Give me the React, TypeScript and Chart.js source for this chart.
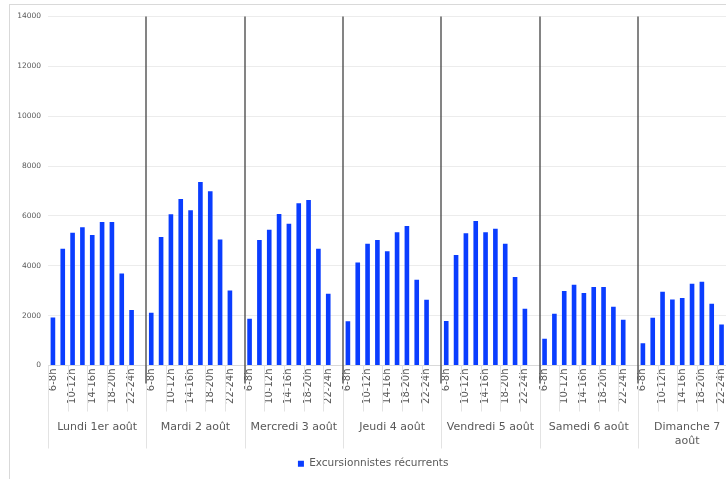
import React, { useEffect, useRef } from "react";
import { Chart, registerables } from "chart.js";

Chart.register(...registerables);

const dayLabels: (string | string[])[] = [
  "Lundi 1er août",
  "Mardi 2 août",
  "Mercredi 3 août",
  "Jeudi 4 août",
  "Vendredi 5 août",
  "Samedi 6 août",
  ["Dimanche 7", "août"],
];
const slots = ["6-8h", "8-10h", "10-12h", "12-14h", "14-16h", "16-18h", "18-20h", "20-22h", "22-24h", ""];

const lundi = [1930, 4680, 5330, 5550, 5230, 5760, 5760, 3690, 2230];
const mardi = [2120, 5150, 6070, 6680, 6230, 7360, 6990, 5050, 3010];
const mercredi = [1880, 5030, 5450, 6080, 5690, 6510, 6640, 4680, 2880];
const jeudi = [1780, 4130, 4880, 5030, 4580, 5350, 5600, 3440, 2640];
const vendredi = [1790, 4430, 5310, 5800, 5350, 5490, 4880, 3550, 2280];
const samedi = [1070, 2080, 2990, 3240, 2910, 3150, 3150, 2360, 1840];
const dimanche = [890, 1920, 2960, 2650, 2710, 3280, 3360, 2480, 1640];

const seriesName = "Excursionnistes récurrents";
const yMax = 14000;
const yStep = 2000;

const perDay = [lundi, mardi, mercredi, jeudi, vendredi, samedi, dimanche];
const labels: string[] = [];
const values: (number | null)[] = [];
perDay.forEach((d) => {
  slots.forEach((s, i) => {
    labels.push(s);
    values.push(i < d.length ? d[i] : null);
  });
});

const FONT = "'DejaVu Sans', sans-serif";
const TEXT = "#595959";

const decorations = {
  id: "decorations",
  afterDraw(chart: any) {
    const { ctx, chartArea, scales } = chart;
    const x = scales.x;
    const step = x.getPixelForValue(1) - x.getPixelForValue(0);
    const boundary = (k: number) => x.getPixelForValue(k) - step / 2;
    const bottom = chartArea.bottom;
    const tickBottom = bottom + 46;
    const dayBottom = tickBottom + 37;
    ctx.save();
    ctx.strokeStyle = "#e3e3e3";
    ctx.lineWidth = 1;
    for (let k = 0; k <= labels.length; k += 2) {
      const px = Math.round(boundary(k)) + 0.5;
      ctx.beginPath();
      ctx.moveTo(px, bottom);
      ctx.lineTo(px, k % 10 === 0 ? dayBottom : tickBottom);
      ctx.stroke();
    }
    ctx.strokeStyle = "#505050";
    ctx.lineWidth = 1.4;
    for (let k = 10; k < labels.length; k += 10) {
      const px = Math.round(boundary(k));
      ctx.beginPath();
      ctx.moveTo(px, chartArea.top);
      ctx.lineTo(px, bottom + 18);
      ctx.stroke();
    }
    ctx.restore();
  },
};

export default function App() {
  const ref = useRef<HTMLCanvasElement | null>(null);
  useEffect(() => {
    if (!ref.current) return;
    const chart = new Chart(ref.current, {
      type: "bar",
      data: {
        labels,
        datasets: [
          {
            label: seriesName,
            data: values,
            backgroundColor: "#0a3dff",
            borderColor: "#0a3dff",
            borderWidth: 0,
            categoryPercentage: 1,
            barPercentage: 0.47,
          },
        ],
      },
      options: {
        responsive: false,
        animation: false,
        maintainAspectRatio: false,
        layout: { padding: { top: 10, right: 13.7, left: 0, bottom: 0 } },
        plugins: {
          tooltip: { enabled: false },
          legend: {
            position: "bottom",
            labels: {
              boxWidth: 6,
              boxHeight: 6,
              padding: 10,
              color: TEXT,
              font: { family: FONT, size: 10.5 },
            },
          },
        },
        scales: {
          y: {
            min: 0,
            max: yMax,
            ticks: {
              stepSize: yStep,
              color: TEXT,
              padding: 7,
              font: { family: FONT, size: 7.5 },
              callback: (v: any) => String(v),
            },
            grid: { color: "#ececec", drawTicks: false },
            border: { display: false },
            afterFit(scale: any) {
              scale.width = 38;
            },
          },
          x: {
            weight: 0,
            ticks: {
              autoSkip: false,
              minRotation: 90,
              maxRotation: 90,
              padding: 3,
              color: TEXT,
              font: { family: FONT, size: 10 },
              callback: (_v: any, i: number) => (i % 2 === 0 ? labels[i] : ""),
            },
            grid: { display: false, drawTicks: false },
            border: { display: true, color: "#d9d9d9" },
            afterFit(scale: any) {
              scale.height = 46;
            },
          },
          x2: {
            type: "category",
            position: "bottom",
            weight: 1,
            labels: dayLabels as any,
            offset: true,
            ticks: {
              autoSkip: false,
              maxRotation: 0,
              minRotation: 0,
              padding: 8,
              color: TEXT,
              font: { family: FONT, size: 11, lineHeight: 1.3 },
            },
            grid: { display: false, drawTicks: false },
            border: { display: false },
            afterFit(scale: any) {
              scale.height = 37;
            },
          },
        },
      },
      plugins: [decorations],
    } as any);
    return () => chart.destroy();
  }, []);

  return (
    <div
      style={{
        position: "fixed",
        left: 0,
        top: 0,
        width: 726,
        height: 479,
        overflow: "hidden",
        background: "#fff",
      }}
    >
      <div
        style={{
          position: "absolute",
          left: 9,
          top: 4,
          width: 800,
          height: 600,
          border: "1px solid #d9d9d9",
          boxSizing: "border-box",
        }}
      />
      <canvas
        ref={ref}
        width={740}
        height={474}
        style={{ position: "absolute", left: 10, top: 5, width: 740, height: 474 }}
      />
    </div>
  );
}
